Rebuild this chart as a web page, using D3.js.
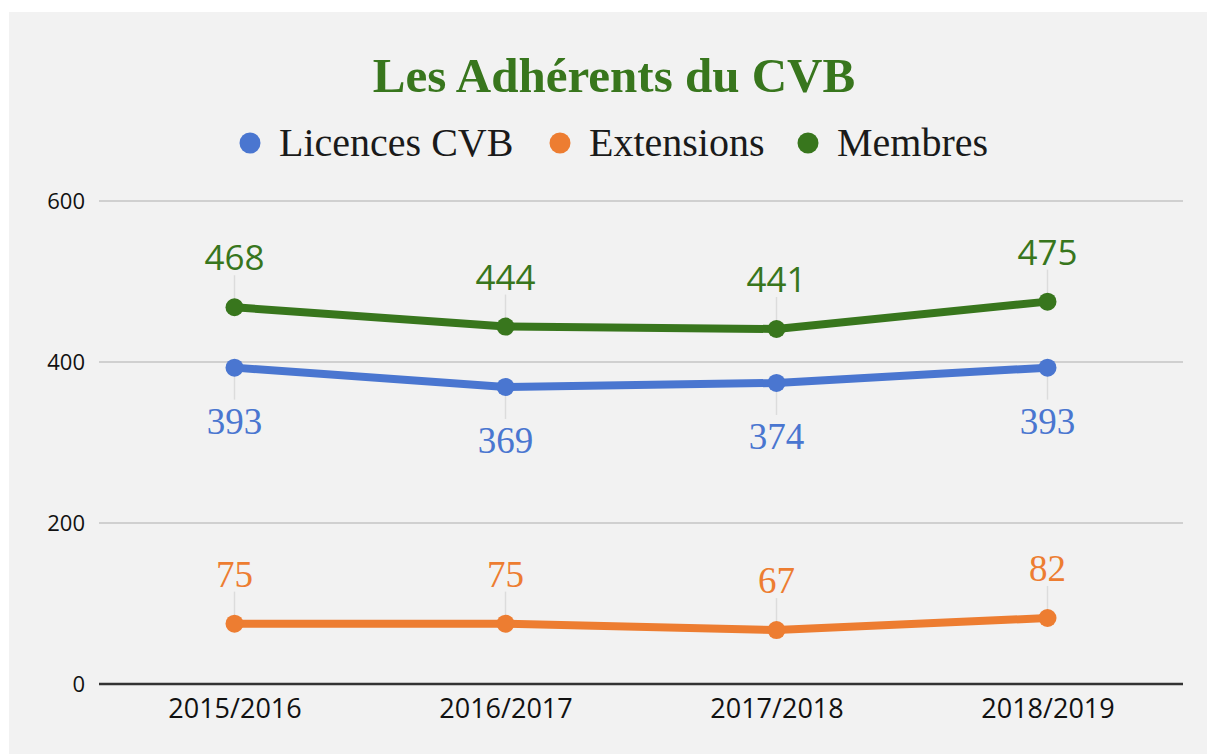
<!DOCTYPE html>
<html>
<head>
<meta charset="utf-8">
<script src="https://cdn.jsdelivr.net/npm/d3@7"></script>
<style>
  body { margin: 0; background: #fff; }
  svg { display: block; }
</style>
</head>
<body>
<svg width="1207" height="754"></svg>
<script>
// data
var seasons = ["2015/2016", "2016/2017", "2017/2018", "2018/2019"];
var licences = [393, 369, 374, 393];
var extensions = [75, 75, 67, 82];
var membres = [468, 444, 441, 475];
var yTicks = [0, 200, 400, 600];

var series = [
  { name: "Licences CVB", values: licences, color: "#4a76d0", below: true, font: "'Liberation Serif', 'Times New Roman', serif" },
  { name: "Extensions", values: extensions, color: "#ed7d31", below: false, font: "'Liberation Serif', 'Times New Roman', serif" },
  { name: "Membres", values: membres, color: "#38761d", below: false, font: "'Open Sans', 'Liberation Sans', sans-serif" }
];

var svg = d3.select("svg"),
  width = 1207,
  height = 754,
  margin = { left: 99, right: 24, top: 201, bottom: 70 };

// panel background
svg.append("rect")
  .attr("x", 9).attr("y", 12)
  .attr("width", width - 9).attr("height", height - 12)
  .attr("fill", "#f2f2f2");

var x = d3.scalePoint()
  .domain(seasons)
  .range([margin.left, width - margin.right])
  .padding(0.5);

var y = d3.scaleLinear()
  .domain([0, 600])
  .range([height - margin.bottom, margin.top]);

// gridlines
svg.append("g")
  .selectAll("line")
  .data(yTicks.filter(function(d) { return d > 0; }))
  .enter().append("line")
  .attr("x1", margin.left).attr("x2", width - margin.right)
  .attr("y1", function(d) { return y(d); })
  .attr("y2", function(d) { return y(d); })
  .attr("stroke", "#c4c4c4")
  .attr("stroke-width", 1.5);

// y axis labels
var yAxis = svg.append("g")
  .attr("transform", "translate(" + margin.left + ",0)")
  .call(d3.axisLeft(y).tickValues(yTicks).tickSize(0).tickPadding(14));
yAxis.select(".domain").remove();
yAxis.selectAll("text")
  .attr("font-family", "'Open Sans', 'Liberation Sans', sans-serif")
  .attr("font-size", 22)
  .attr("fill", "#111");

// x axis
var xAxis = svg.append("g")
  .attr("transform", "translate(0," + y(0) + ")")
  .call(d3.axisBottom(x).tickSize(0).tickPadding(15));
xAxis.select(".domain")
  .attr("stroke", "#333")
  .attr("stroke-width", 2.5)
  .attr("d", "M" + margin.left + ",0H" + (width - margin.right));
xAxis.selectAll("text")
  .attr("font-family", "'Open Sans', 'Liberation Sans', sans-serif")
  .attr("font-size", 27)
  .attr("fill", "#111");

var line = d3.line()
  .x(function(d, i) { return x(seasons[i]); })
  .y(function(d) { return y(d); });

series.forEach(function(s) {
  var g = svg.append("g");
  var dir = s.below ? 1 : -1;

  // leader lines
  g.selectAll(".leader")
    .data(s.values)
    .enter().append("line")
    .attr("class", "leader")
    .attr("x1", function(d, i) { return x(seasons[i]); })
    .attr("x2", function(d, i) { return x(seasons[i]); })
    .attr("y1", function(d) { return y(d); })
    .attr("y2", function(d) { return y(d) + dir * 32; })
    .attr("stroke", "#dcdcdc")
    .attr("stroke-width", 1.5);

  g.append("path")
    .datum(s.values)
    .attr("d", line)
    .attr("fill", "none")
    .attr("stroke", s.color)
    .attr("stroke-width", 8)
    .attr("stroke-linejoin", "round");

  g.selectAll(".dot")
    .data(s.values)
    .enter().append("circle")
    .attr("class", "dot")
    .attr("cx", function(d, i) { return x(seasons[i]); })
    .attr("cy", function(d) { return y(d); })
    .attr("r", 9)
    .attr("fill", s.color);

  g.selectAll(".lbl")
    .data(s.values)
    .enter().append("text")
    .attr("class", "lbl")
    .attr("x", function(d, i) { return x(seasons[i]); })
    .attr("y", function(d) { return s.below ? y(d) + 66 : y(d) - 37; })
    .attr("text-anchor", "middle")
    .attr("font-family", s.font)
    .attr("font-size", s.font.indexOf("Serif") >= 0 ? 37 : 35)
    .attr("fill", s.color)
    .text(function(d) { return d; });
});

// title
svg.append("text")
  .attr("x", 614).attr("y", 92)
  .attr("text-anchor", "middle")
  .attr("font-family", "'Liberation Serif', 'Times New Roman', serif")
  .attr("font-weight", "bold")
  .attr("font-size", 49)
  .attr("fill", "#38761d")
  .text("Les Adhérents du CVB");

// legend
var legendX = [250, 560, 808];
var legend = svg.append("g");
series.forEach(function(s, i) {
  legend.append("circle")
    .attr("cx", legendX[i]).attr("cy", 143)
    .attr("r", 10.5)
    .attr("fill", s.color);
  legend.append("text")
    .attr("x", legendX[i] + 29).attr("y", 156)
    .attr("font-family", "'Liberation Serif', 'Times New Roman', serif")
    .attr("font-size", 40)
    .attr("fill", "#1a1a1a")
    .text(s.name);
});
</script>
</body>
</html>
